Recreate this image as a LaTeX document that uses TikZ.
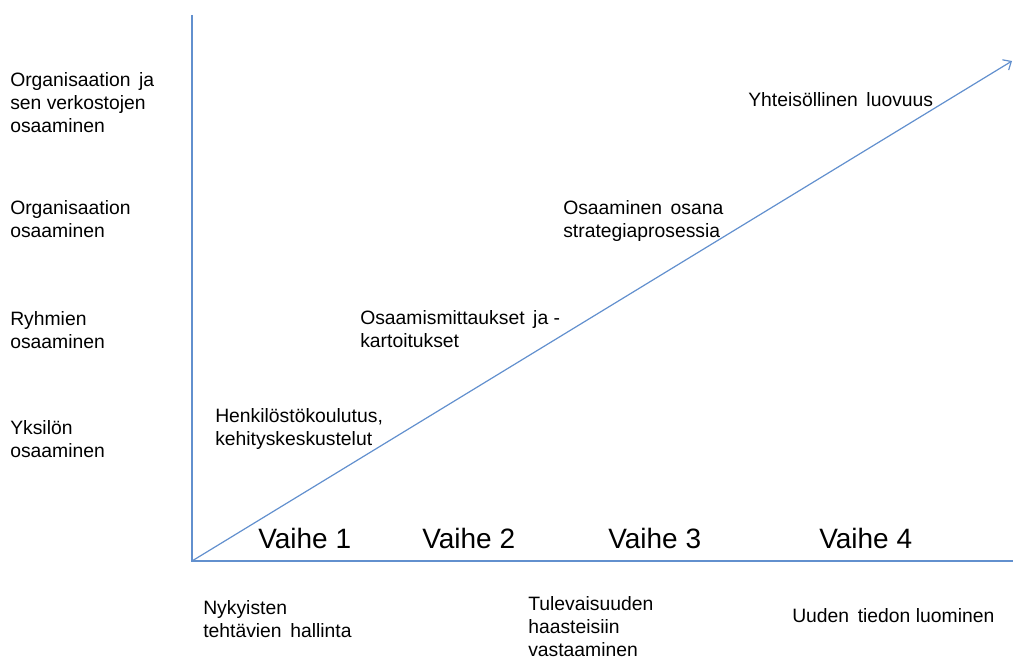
\documentclass[tikz,border=0pt]{standalone}
\usepackage{fontspec}
\setmainfont{Liberation Sans}
\usepackage{tikz}
\usetikzlibrary{arrows.meta}
\definecolor{axisblue}{RGB}{98,144,206}

\begin{document}
\begin{tikzpicture}[
x=0.75pt, y=-0.75pt,
font=\fontsize{14.5}{17.25}\selectfont,
axis/.style={draw=axisblue, line width=0.9pt},
label/.style={anchor=base west, align=left, inner sep=0pt},
phase/.style={anchor=base west, inner sep=0pt, font=\fontsize{21}{24}\selectfont}
]
    \useasboundingbox (0,0) rectangle (1013,659);

    % Axes
    \coordinate (origin) at (192,561);
    \coordinate (ytop) at (192,15);
    \coordinate (xend) at (1013,561);
    \coordinate (diagend) at (1012,61);

    \draw[axis] (ytop) -- (origin) -- (xend);
    \draw[axis, -{Straight Barb[length=5pt,width=9pt]}] (origin) -- (diagend);

    % Levels on the left (placed at the last line)
    \node[label] (lvlnet) at (10,133) {Organisaation\, ja\\sen verkostojen\\osaaminen};
    \node[label] (lvlorg) at (10,238) {Organisaation\\osaaminen};
    \node[label] (lvlgrp) at (10,348) {Ryhmien\\osaaminen};
    \node[label] (lvlind) at (10,457) {Yksilön\\osaaminen};

    % Means along the line
    \node[label] (meanone) at (215,445) {Henkilöstökoulutus,\\kehityskeskustelut};
    \node[label] (meantwo) at (360,347) {Osaamismittaukset\, ja -\\kartoitukset};
    \node[label] (meanthree) at (563,238) {Osaaminen\, osana\\strategiaprosessia};
    \node[label] (meanfour) at (748,107) {Yhteisöllinen\, luovuus};

    % Phases
    \node[phase] (vaiheone) at (258,548) {Vaihe 1};
    \node[phase] (vaihetwo) at (422,548) {Vaihe 2};
    \node[phase] (vaihethree) at (608,548) {Vaihe 3};
    \node[phase] (vaihefour) at (819,548) {Vaihe 4};

    % Goals below the axis
    \node[label] (goalone) at (203,637) {Nykyisten\\tehtävien\, hallinta};
    \node[label] (goaltwo) at (528,656) {Tulevaisuuden\\haasteisiin\\vastaaminen};
    \node[label] (goalthree) at (792,622) {Uuden\, tiedon luominen};

\end{tikzpicture}
\end{document}
